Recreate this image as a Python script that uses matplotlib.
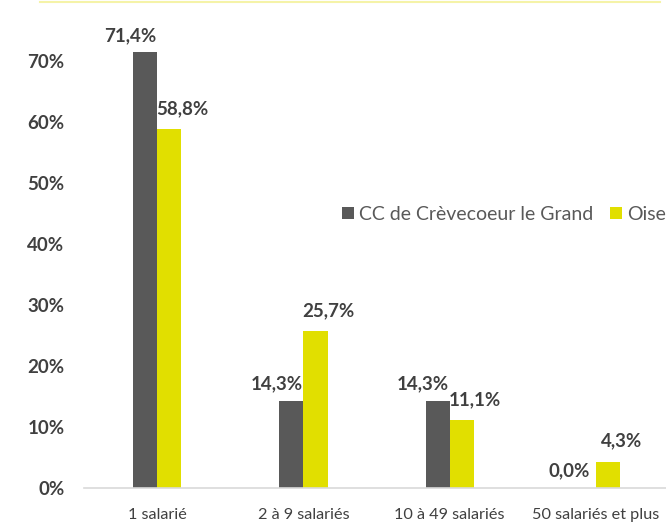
import numpy as np
import matplotlib.pyplot as plt
from matplotlib.lines import Line2D

plt.rcParams['font.family'] = ['Lato', 'DejaVu Sans']

categories = ['1 salarié', '2 à 9 salariés', '10 à 49 salariés', '50 salariés et plus']
cc_crevecoeur = [71.4, 14.3, 14.3, 0.0]
oise = [58.8, 25.7, 11.1, 4.3]
series_names = ['CC de Crèvecoeur le Grand', 'Oise']

gris = '#595959'
jaune = '#e1df00'
texte = '#404040'

fig = plt.figure(figsize=(6.66, 5.22), dpi=100)
ax = fig.add_axes([0.126, 0.065, 0.874, 0.935])

x = np.arange(len(categories))
w = 0.165
b1 = ax.bar(x - w / 2, cc_crevecoeur, width=w, color=gris, label=series_names[0])
b2 = ax.bar(x + w / 2, oise, width=w, color=jaune, label=series_names[1])

# etiquettes de valeurs (décalées comme dans Excel)
for rect, v in zip(b1, cc_crevecoeur):
    ax.annotate(f'{v:.1f}%'.replace('.', ','), (rect.get_x() + rect.get_width() / 2, v),
                xytext=(-15, 17), textcoords='offset pixels', ha='center', va='center',
                fontsize=13.5, fontweight='bold', color=texte)
for rect, v in zip(b2, oise):
    ax.annotate(f'{v:.1f}%'.replace('.', ','), (rect.get_x() + rect.get_width() / 2, v),
                xytext=(13, 21), textcoords='offset pixels', ha='center', va='center',
                fontsize=13.5, fontweight='bold', color=texte)

ax.set_ylim(0, 80)
ax.set_xlim(-0.5, 3.478)
ax.set_yticks(np.arange(0, 71, 10))
ax.set_yticklabels([f'{t}%' for t in range(0, 71, 10)], fontsize=13.5, fontweight='bold', color=texte)
ax.set_xticks(x)
ax.set_xticklabels(categories, fontsize=11.7, color=texte)
ax.tick_params(axis='both', length=0)
ax.tick_params(axis='x', pad=14)
ax.tick_params(axis='y', pad=14)

for s in ['top', 'right', 'left']:
    ax.spines[s].set_visible(False)
ax.spines['bottom'].set_color('#d9d9d9')
ax.spines['bottom'].set_linewidth(1.2)

leg = ax.legend(loc='center left', bbox_to_anchor=(0.4436, 0.561), ncol=2, frameon=False,
                fontsize=14, handlelength=0.6, handleheight=0.6, handletextpad=0.25,
                columnspacing=0.9, labelcolor=gris, borderaxespad=0, borderpad=0)

# bordure jaune en haut
fig.add_artist(Line2D([40 / 666, 660 / 666], [1 - 1.5 / 522, 1 - 1.5 / 522],
                      color='#f5f3a8', linewidth=1.5))

fig.savefig('out.png', dpi=100)
